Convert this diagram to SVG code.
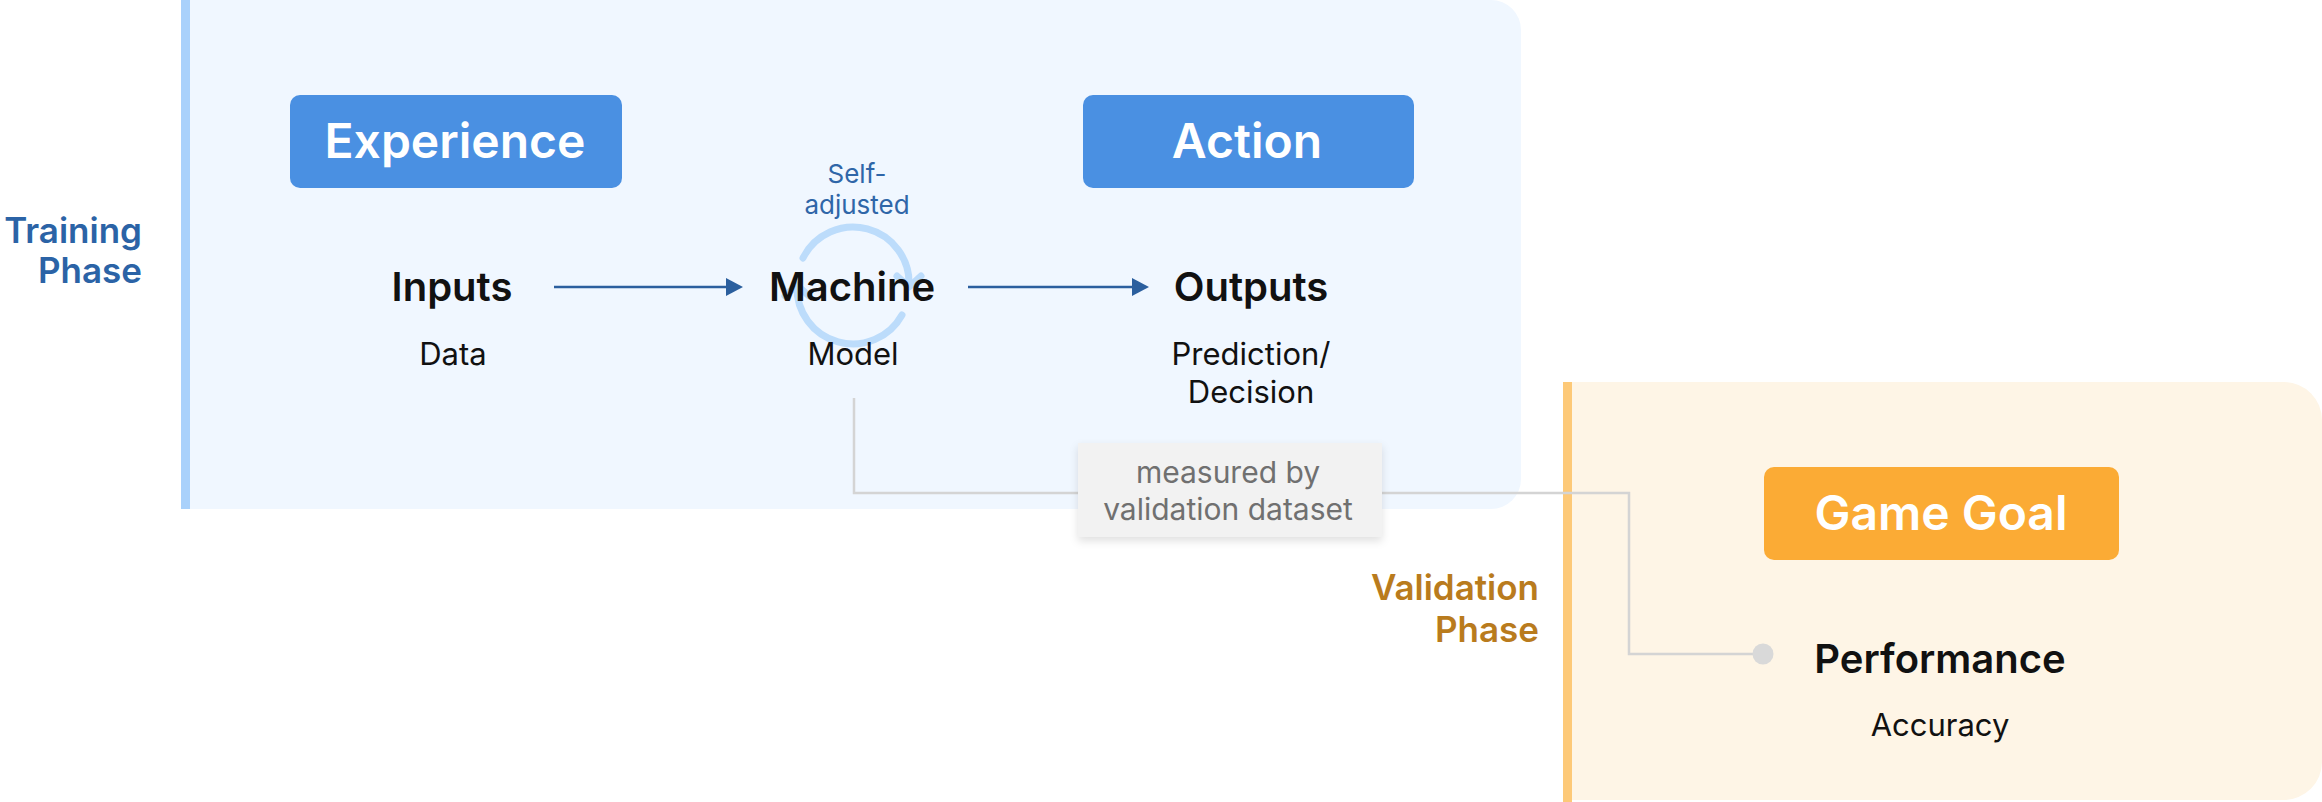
<svg xmlns="http://www.w3.org/2000/svg" width="2322" height="802" viewBox="0 0 2322 802">
<style>
text { font-family: Inter, "Noto Sans", "Liberation Sans", sans-serif; }
.hdr { font-size: 48px; font-weight: 600; fill: #ffffff; text-anchor: middle; }
.lbl { font-size: 40px; font-weight: 600; fill: #111111; text-anchor: middle; }
.sub { font-size: 31px; font-weight: 400; fill: #111111; text-anchor: middle; }
.phaseT { font-size: 35px; font-weight: 600; fill: #2b63a6; text-anchor: end; }
.phaseV { font-size: 35px; font-weight: 600; fill: #b97b1d; text-anchor: end; }
.note { font-size: 26px; font-weight: 400; fill: #2f66a8; text-anchor: middle; }
.meas { font-size: 30px; font-weight: 400; fill: #707070; text-anchor: middle; }
.flow { stroke: #2b5f9e; stroke-width: 2.5; fill: none; }
.conn { stroke: #d4d4d4; stroke-width: 2.5; fill: none; }
.cyc { stroke: #bcdcfb; stroke-width: 7; fill: none; stroke-linecap: round; stroke-linejoin: round; }
</style>
<defs>
<marker id="arr" markerUnits="userSpaceOnUse" markerWidth="18" markerHeight="18" refX="2" refY="9" orient="auto">
<path d="M0,0 L17,9 L0,18 Z" fill="#2b5f9e"/>
</marker>
<filter id="sh" x="-10%" y="-20%" width="120%" height="150%">
<feDropShadow dx="0" dy="4" stdDeviation="4" flood-color="#000000" flood-opacity="0.12"/>
</filter>
</defs>

<g id="training-phase">
<path d="M181 0 H1491 A30 30 0 0 1 1521 30 V479 A30 30 0 0 1 1491 509 H181 Z" fill="#f0f7ff"/>
<rect x="181" y="0" width="9" height="509" fill="#a9d1fb"/>
<text class="phaseT" x="142" y="243">Training</text>
<text class="phaseT" x="142" y="283">Phase</text>
</g>

<g id="validation-phase">
<path d="M1563 382 H2284 A38 38 0 0 1 2322 420 V762 A38 38 0 0 1 2284 800 H1563 Z" fill="#fef5e6"/>
<rect x="1563" y="382" width="9" height="420" fill="#fdc978"/>
<text class="phaseV" x="1539" y="600">Validation</text>
<text class="phaseV" x="1539" y="642">Phase</text>
</g>

<g id="experience">
<rect x="290" y="95" width="332" height="93" rx="10" fill="#4a90e2"/>
<text class="hdr" x="455" y="158">Experience</text>
</g>

<g id="action">
<rect x="1083" y="95" width="331" height="93" rx="10" fill="#4a90e2"/>
<text class="hdr" x="1247" y="158">Action</text>
</g>

<g id="game-goal">
<rect x="1764" y="467" width="355" height="93" rx="10" fill="#fbab35"/>
<text class="hdr" x="1941" y="530">Game Goal</text>
</g>

<g id="connectors">
<line class="flow" x1="554" y1="287" x2="728" y2="287" marker-end="url(#arr)"/>
<line class="flow" x1="968" y1="287" x2="1134" y2="287" marker-end="url(#arr)"/>
<polyline class="conn" points="854,398 854,493 1629,493 1629,654 1753,654"/>
<circle cx="1763" cy="654" r="10.5" fill="#d9d9d9"/>
</g>

<g id="inputs">
<text class="lbl" x="452" y="301">Inputs</text>
<text class="sub" x="453" y="365">Data</text>
</g>

<g id="machine">
<path class="cyc" d="M803 258 A56 56 0 0 1 909 286"/>
<path class="cyc" d="M897 276 L909 287 L921 276"/>
<path class="cyc" d="M902 315 A56 56 0 0 1 797 286"/>
<path class="cyc" d="M785 296 L797 285 L809 296"/>
<text class="note" x="857" y="183">Self-</text>
<text class="note" x="857" y="214">adjusted</text>
<text class="lbl" x="852" y="301">Machine</text>
<text class="sub" x="853" y="365">Model</text>
</g>

<g id="outputs">
<text class="lbl" x="1251" y="301">Outputs</text>
<text class="sub" x="1251" y="365">Prediction/</text>
<text class="sub" x="1251" y="403">Decision</text>
</g>

<g id="measured-by">
<rect x="1078" y="443" width="304" height="94" fill="#f2f2f2" filter="url(#sh)"/>
<text class="meas" x="1228" y="483">measured by</text>
<text class="meas" x="1228" y="520">validation dataset</text>
</g>

<g id="performance">
<text class="lbl" x="1940" y="673">Performance</text>
<text class="sub" x="1940" y="736">Accuracy</text>
</g>
</svg>
